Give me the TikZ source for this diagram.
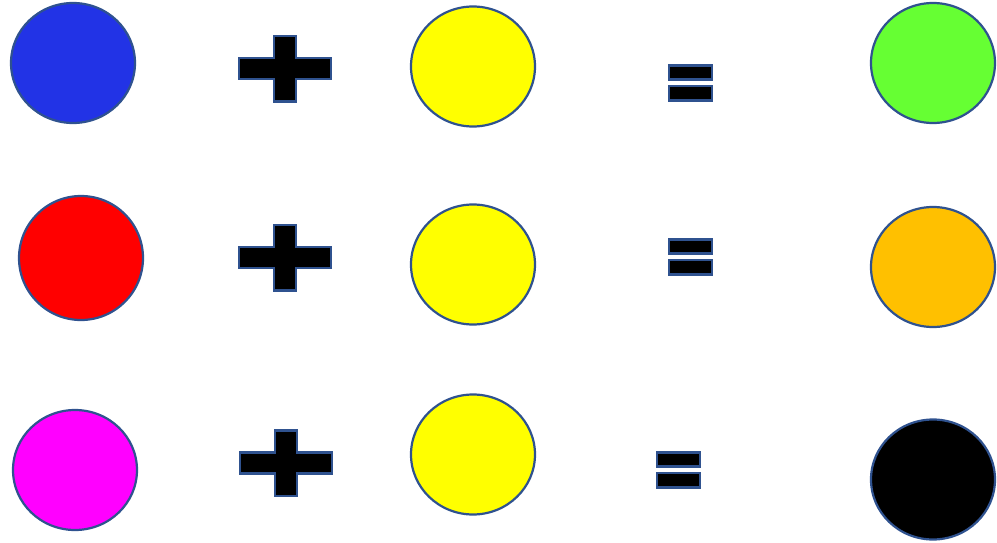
\documentclass[tikz,border=0pt]{standalone}
\usetikzlibrary{shapes.geometric}
\definecolor{outl}{HTML}{2F528F}
\definecolor{cblue}{HTML}{2233E6}
\definecolor{cyellow}{HTML}{FFFF00}
\definecolor{cgreen}{HTML}{66FF33}
\definecolor{cred}{HTML}{FF0000}
\definecolor{corange}{HTML}{FFC000}
\definecolor{cmagenta}{HTML}{FF00FF}
\tikzset{
  blob/.style={ellipse, draw=outl, line width=2.2pt, minimum width=124pt, minimum height=120pt, inner sep=0pt},
  signstyle/.style={draw=outl, fill=black, line width=2.2pt},
  plussign/.pic={
    \path[signstyle] (-46,-10.5) -- (-11,-10.5) -- (-11,-32.5) -- (11,-32.5) -- (11,-10.5) -- (46,-10.5)
      -- (46,10.5) -- (11,10.5) -- (11,33) -- (-11,33) -- (-11,10.5) -- (-46,10.5) -- cycle;
  },
  eqsign/.pic={
    \path[signstyle] (-21.5,-17.5) rectangle (21.5,-3.5);
    \path[signstyle] (-21.5,3) rectangle (21.5,17.5);
  }
}
\begin{document}
\begin{tikzpicture}[x=1pt,y=-1pt]
\useasboundingbox (0,0) rectangle (997,543);
% row 1
\node[blob, fill=cblue] (b1) at (73,63) {};
\pic at (285,68.5) {plussign};
\node[blob, fill=cyellow] (y1) at (473,66.5) {};
\pic at (690.5,83) {eqsign};
\node[blob, fill=cgreen] (g1) at (933,63) {};
% row 2
\node[blob, fill=cred, minimum height=124pt] (r2) at (81,258) {};
\pic at (285,257.5) {plussign};
\node[blob, fill=cyellow] (y2) at (473,264.5) {};
\pic at (690.5,257) {eqsign};
\node[blob, fill=corange] (o2) at (933,267) {};
% row 3
\node[blob, fill=cmagenta] (m3) at (75,470) {};
\pic at (286,463) {plussign};
\node[blob, fill=cyellow] (y3) at (473,454.5) {};
\pic at (678.5,470) {eqsign};
\node[blob, fill=black] (k3) at (933,479.5) {};
\end{tikzpicture}
\end{document}
